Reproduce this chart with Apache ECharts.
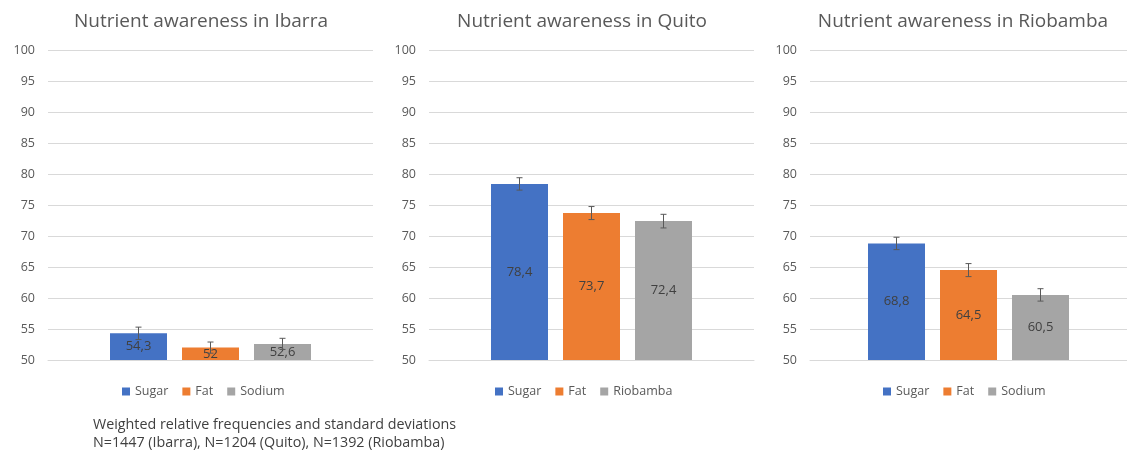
<!DOCTYPE html>
<html lang="en">
<head>
    <meta charset="UTF-8">
    <title>Nutrient awareness</title>
    <script src="https://cdn.jsdelivr.net/npm/echarts@6.0.0/dist/echarts.min.js"></script>
    <style>
        * {
            margin: 0;
            padding: 0;
            box-sizing: border-box;
        }

        body {
            background-color: #ffffff;
        }

        #chart {
            width: 1127px;
            height: 457px;
        }
    </style>
</head>
<body>
    <div id="chart"></div>

    <script>
        // data, one entry per city: Ibarra, Quito, Riobamba
        const cities = ['Ibarra', 'Quito', 'Riobamba'];
        const chartTitles = ['Nutrient awareness in Ibarra', 'Nutrient awareness in Quito', 'Nutrient awareness in Riobamba'];
        const seriesNames = [
            ['Sugar', 'Fat', 'Sodium'],
            ['Sugar', 'Fat', 'Riobamba'],
            ['Sugar', 'Fat', 'Sodium']
        ];
        const sugar = [54.3, 78.4, 68.8];
        const fat = [52, 73.7, 64.5];
        const sodium = [52.6, 72.4, 60.5];
        const sugarSd = [1.0, 1.0, 1.0];
        const fatSd = [0.9, 1.05, 1.05];
        const sodiumSd = [0.9, 1.1, 1.0];
        const yMin = 50;
        const yMax = 100;
        const yStep = 5;
        const footnote = [
            'Weighted relative frequencies and standard deviations',
            'N=1447 (Ibarra), N=1204 (Quito), N=1392 (Riobamba)'
        ];

        const values = [sugar, fat, sodium];
        const errors = [sugarSd, fatSd, sodiumSd];
        const colors = ['#4472C4', '#ED7D31', '#A5A5A5'];
        const font = '"Open Sans", sans-serif';

        const panelStep = 381;
        const barW = 57;
        const gapW = 15;
        const legendLeft = [117, 490, 878];

        const chart = echarts.init(document.getElementById('chart'));

        const title = [], grid = [], xAxis = [], yAxis = [], legend = [], series = [];

        cities.forEach((city, p) => {
            title.push({
                text: chartTitles[p],
                left: 196 + p * panelStep,
                textAlign: 'center',
                top: 7,
                textStyle: { fontFamily: font, fontSize: 19, fontWeight: 'normal', color: '#595959' }
            });
            grid.push({ left: 48 + p * panelStep, top: 50, width: 325, height: 310 });
            xAxis.push({
                type: 'category',
                gridIndex: p,
                data: [''],
                axisLine: { lineStyle: { color: '#d9d9d9' } },
                axisTick: { show: false },
                axisLabel: { show: false }
            });
            yAxis.push({
                type: 'value',
                gridIndex: p,
                min: yMin,
                max: yMax,
                interval: yStep,
                axisLine: { show: false },
                axisTick: { show: false },
                axisLabel: { margin: 13, fontFamily: font, fontSize: 12.5, color: '#595959' },
                splitLine: { lineStyle: { color: '#d9d9d9' } }
            });
            legend.push({
                data: seriesNames[p],
                left: legendLeft[p],
                top: 380,
                icon: 'rect',
                itemWidth: 8,
                itemHeight: 8,
                itemGap: 14,
                selectedMode: false,
                textStyle: { fontFamily: font, fontSize: 12.5, color: '#595959' }
            });

            values.forEach((arr, i) => {
                series.push({
                    type: 'bar',
                    name: seriesNames[p][i],
                    xAxisIndex: p,
                    yAxisIndex: p,
                    data: [arr[p]],
                    barWidth: barW,
                    barGap: (gapW / barW * 100) + '%',
                    itemStyle: { color: colors[i] },
                    label: {
                        show: true,
                        position: 'inside',
                        fontFamily: font,
                        fontSize: 13,
                        color: '#404040',
                        formatter: (d) => String(d.value).replace('.', ',')
                    }
                });
            });

            // error bars
            series.push({
                type: 'custom',
                xAxisIndex: p,
                yAxisIndex: p,
                z: 5,
                data: values.map((arr, i) => [0, arr[p], errors[i][p], i]),
                renderItem: (params, api) => {
                    const v = api.value(1), sd = api.value(2), i = api.value(3);
                    const x = api.coord([0, v])[0] + (i - 1) * (barW + gapW);
                    const top = api.coord([0, v + sd])[1];
                    const bot = api.coord([0, v - sd])[1];
                    const style = { stroke: '#595959', lineWidth: 1 };
                    return {
                        type: 'group',
                        children: [
                            { type: 'line', shape: { x1: x, y1: top, x2: x, y2: bot }, style },
                            { type: 'line', shape: { x1: x - 3, y1: top, x2: x + 3, y2: top }, style },
                            { type: 'line', shape: { x1: x - 3, y1: bot, x2: x + 3, y2: bot }, style }
                        ]
                    };
                }
            });
        });

        chart.setOption({
            animation: false,
            title,
            grid,
            xAxis,
            yAxis,
            legend,
            series,
            graphic: footnote.map((t, k) => ({
                type: 'text',
                left: 93,
                top: 418 + k * 18,
                style: { text: t, fontFamily: font, fontSize: 14.3, fill: '#404040' }
            }))
        });
    </script>
</body>
</html>
